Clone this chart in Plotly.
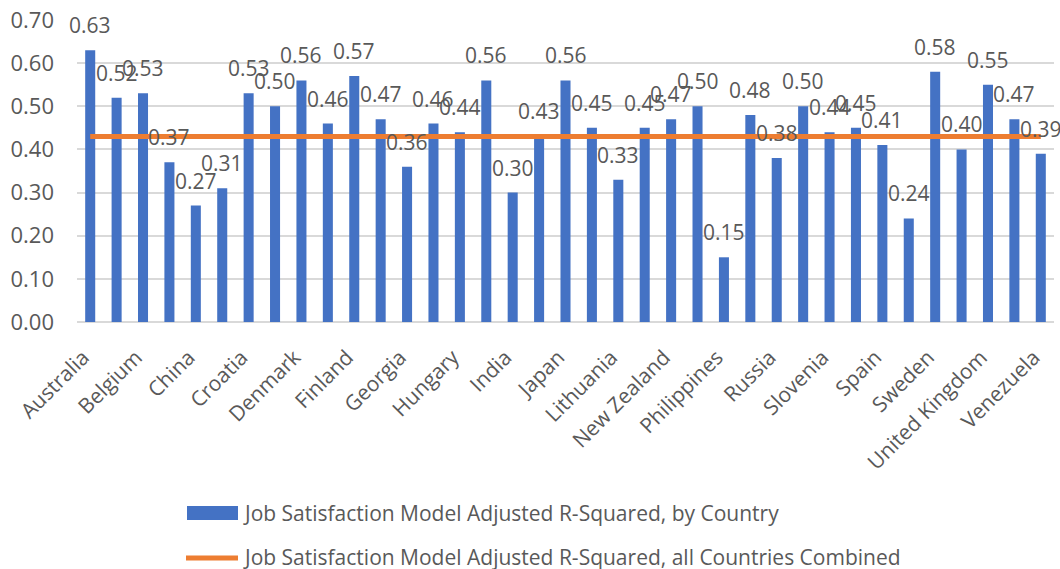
import plotly.graph_objects as go

countries = [
    "Australia", "Austria", "Belgium", "Chile", "China", "Chinese Taipei", "Croatia",
    "Czech Republic", "Denmark", "Estonia", "Finland", "France", "Georgia", "Germany",
    "Hungary", "Iceland", "India", "Israel", "Japan", "Latvia", "Lithuania", "Mexico",
    "New Zealand", "Norway", "Philippines", "Poland", "Russia", "Slovakia", "Slovenia",
    "South Africa", "Spain", "Suriname", "Sweden", "Switzerland", "United Kingdom",
    "United States", "Venezuela",
]
r2_by_country = [
    0.63, 0.52, 0.53, 0.37, 0.27, 0.31, 0.53,
    0.50, 0.56, 0.46, 0.57, 0.47, 0.36, 0.46,
    0.44, 0.56, 0.30, 0.43, 0.56, 0.45, 0.33, 0.45,
    0.47, 0.50, 0.15, 0.48, 0.38, 0.50, 0.44,
    0.45, 0.41, 0.24, 0.58, 0.40, 0.55,
    0.47, 0.39,
]
r2_combined = 0.43
shown_ticks = countries[::2]

name_bar = "Job Satisfaction Model Adjusted R-Squared, by Country"
name_line = "Job Satisfaction Model Adjusted R-Squared, all Countries Combined"

BLUE = "#4472C4"
ORANGE = "#ED7D31"
GRAY = "#595959"
FONT = "Open Sans"

W, H = 1060, 569
ML, MR, MT, MB = 77, 6, 20, 247
PW, PH = W - ML - MR, H - MT - MB


def px2x(px):
    return (px - ML) / PW


def py2y(py):
    return (H - MB - py) / PH


fig = go.Figure()
fig.add_trace(go.Bar(
    x=countries, y=r2_by_country, name=name_bar,
    marker=dict(color=BLUE, line=dict(width=0)),
    showlegend=False,
))
fig.add_trace(go.Scatter(
    x=[countries[0], countries[-1]], y=[r2_combined, r2_combined],
    mode="lines", name=name_line,
    line=dict(color=ORANGE, width=5),
    showlegend=False,
))

annotations = []
for c, v in zip(countries, r2_by_country):
    annotations.append(dict(
        x=c, y=v, xref="x", yref="y", text=f"{v:.2f}", showarrow=False,
        yshift=25, font=dict(family=FONT, size=21, color=GRAY),
        xanchor="center", yanchor="middle",
    ))

# manual legend
shapes = [
    dict(type="rect", xref="paper", yref="paper",
         x0=px2x(187), x1=px2x(238), y0=py2y(520), y1=py2y(506),
         fillcolor=BLUE, line=dict(width=0)),
    dict(type="line", xref="paper", yref="paper",
         x0=px2x(186), x1=px2x(238), y0=py2y(558), y1=py2y(558),
         line=dict(color=ORANGE, width=5)),
]
annotations.append(dict(
    x=px2x(241), y=py2y(513), xref="paper", yref="paper", text=name_bar,
    showarrow=False, xanchor="left", yanchor="middle",
    font=dict(family=FONT, size=21, color=GRAY),
))
annotations.append(dict(
    x=px2x(241), y=py2y(557), xref="paper", yref="paper", text=name_line,
    showarrow=False, xanchor="left", yanchor="middle",
    font=dict(family=FONT, size=21, color=GRAY),
))

fig.update_layout(
    width=W, height=H,
    margin=dict(l=ML, r=MR, t=MT, b=MB, pad=0, autoexpand=False),
    paper_bgcolor="white", plot_bgcolor="white",
    bargap=0.62,
    showlegend=False,
    annotations=annotations,
    shapes=shapes,
    font=dict(family=FONT, color=GRAY),
)
fig.update_xaxes(
    type="category", tickmode="array", tickvals=shown_ticks, ticktext=shown_ticks,
    range=[-0.5, len(countries) - 0.5], autorange=False,
    tickangle=-45, showgrid=False, showline=False, ticks="",
    tickfont=dict(family=FONT, size=21, color=GRAY),
    ticklabelstandoff=18, ticklabelshift=-7, automargin=False,
)
fig.update_yaxes(
    range=[0, 0.7], autorange=False, dtick=0.1, tickformat=".2f",
    showgrid=True, gridcolor="#D9D9D9", gridwidth=1.5,
    zeroline=True, zerolinecolor="#D9D9D9", zerolinewidth=2,
    showline=False, ticks="",
    tickfont=dict(family=FONT, size=22, color=GRAY),
    ticklabelstandoff=22, automargin=False,
)

fig.write_html(
    "out.html",
    config={"displayModeBar": False},
    post_script="document.body.style.margin='0';document.body.style.overflow='hidden';",
)
